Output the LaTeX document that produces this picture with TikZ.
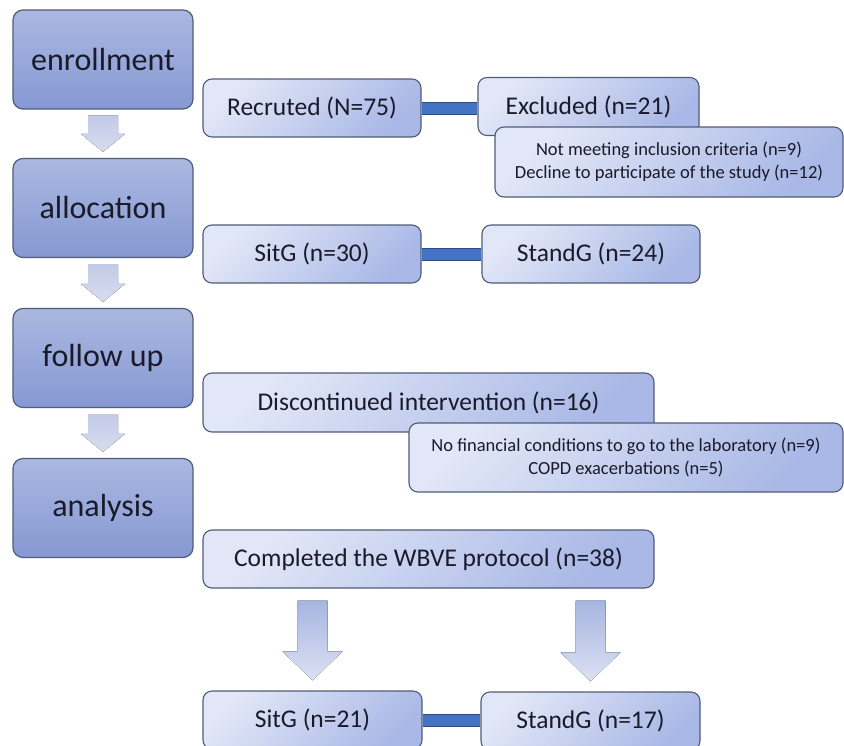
\documentclass[tikz,border=0pt]{standalone}
\usepackage{fontspec}
\setmainfont{Carlito}
\usetikzlibrary{calc}

\definecolor{stagetop}{HTML}{AAB8E1}
\definecolor{stagebottom}{HTML}{8698D2}
\definecolor{infolight}{HTML}{E2E7F7}
\definecolor{infodark}{HTML}{A9B8E6}
\definecolor{boxline}{HTML}{505C78}
\definecolor{barfill}{HTML}{4472C4}
\definecolor{barline}{HTML}{2F4A80}
\definecolor{arrowtop}{HTML}{C2CAE6}
\definecolor{arrowbottom}{HTML}{D8DDEF}
\definecolor{bigtop}{HTML}{A6B5E1}
\definecolor{bigbottom}{HTML}{DCE1F3}
\definecolor{textdark}{HTML}{1A1A2A}

\tikzset{
  stage/.style={draw=boxline, line width=1.2pt, rounded corners=10pt,
    top color=stagetop, bottom color=stagebottom,
    minimum width=180pt, minimum height=99pt, inner sep=0pt,
    text=textdark, font=\fontsize{32}{38}\selectfont},
  infobox/.style={draw=boxline, line width=1.1pt, rounded corners=9pt,
    top color=infolight, bottom color=infodark, shading angle=45,
    minimum height=58pt, inner sep=0pt,
    text=textdark, font=\fontsize{25.5}{30}\selectfont},
  notebox/.style={infobox, minimum height=70pt, align=center,
    font=\fontsize{18.5}{23}\selectfont},
  bar/.style={draw=barline, line width=1pt, double=barfill, double distance=11pt},
  smallarrow/.style={top color=arrowtop, bottom color=arrowbottom},
  bigarrow/.style={top color=bigtop, bottom color=bigbottom}
}

\begin{document}
\begin{tikzpicture}[x=1pt,y=-1pt]
\useasboundingbox (0,0) rectangle (844,745);
\fill[white] (0,0) rectangle (844,745);

% stages
\node[stage] (enroll) at (103,59.5) {enrollment};
\node[stage] (alloc) at (103,208) {allocation};
\node[stage] (follow) at (103,358) {follow up};
\node[stage] (analysis) at (103,508) {analysis};

% arrows between stages
\fill[smallarrow] ($(enroll.south)+(-15,6)$) -- ($(enroll.south)+(15,6)$) -- ($(alloc.north)+(15,-24)$) -- ($(alloc.north)+(22,-24)$) -- ($(alloc.north)+(0,-6)$) -- ($(alloc.north)+(-22,-24)$) -- ($(alloc.north)+(-15,-24)$) -- cycle;
\fill[smallarrow] ($(alloc.south)+(-15,6)$) -- ($(alloc.south)+(15,6)$) -- ($(follow.north)+(15,-24)$) -- ($(follow.north)+(22,-24)$) -- ($(follow.north)+(0,-6)$) -- ($(follow.north)+(-22,-24)$) -- ($(follow.north)+(-15,-24)$) -- cycle;
\fill[smallarrow] ($(follow.south)+(-15,6)$) -- ($(follow.south)+(15,6)$) -- ($(analysis.north)+(15,-24)$) -- ($(analysis.north)+(22,-24)$) -- ($(analysis.north)+(0,-6)$) -- ($(analysis.north)+(-22,-24)$) -- ($(analysis.north)+(-15,-24)$) -- cycle;

% enrollment
\node[infobox, minimum width=218pt] (recruit) at (312,108) {Recruted (N=75)};
\node[infobox, minimum width=221pt] (excluded) at (588.5,106.5) {Excluded (n=21)};
\node[notebox, minimum width=348pt] (exclwhy) at (669,162) {Not meeting inclusion criteria (n=9)\\Decline to participate of the study (n=12)};
\draw[bar] (recruit.east) -- (recruit.east -| excluded.west);

% allocation
\node[infobox, minimum width=218pt] (sitA) at (312,254) {SitG (n=30)};
\node[infobox, minimum width=218pt] (standA) at (591,254) {StandG (n=24)};
\draw[bar] (sitA.east) -- (standA.west);

% follow up
\node[infobox, minimum width=451pt, minimum height=59pt] (discont) at (428.5,402.5) {Discontinued intervention (n=16)};
\node[notebox, minimum width=434pt, minimum height=69pt] (discwhy) at (626,457.5) {No financial conditions to go to the laboratory (n=9)\\COPD exacerbations (n=5)};

% analysis
\node[infobox, minimum width=451pt] (completed) at (428.5,559) {Completed the WBVE protocol (n=38)};
\node[infobox, minimum width=219pt] (sitB) at (312.5,720) {SitG (n=21)};
\node[infobox, minimum width=219pt] (standB) at (590.5,721) {StandG (n=17)};
\draw[bar] (sitB.east) -- (sitB.east -| standB.west);

\fill[bigarrow] ($(completed.south -| sitB.north)+(-15,12)$) -- ($(completed.south -| sitB.north)+(15,12)$) -- ($(sitB.north)+(15,-39)$) -- ($(sitB.north)+(30,-39)$) -- ($(sitB.north)+(0,-10)$) -- ($(sitB.north)+(-30,-39)$) -- ($(sitB.north)+(-15,-39)$) -- cycle;
\fill[bigarrow] ($(completed.south -| standB.north)+(-15,12)$) -- ($(completed.south -| standB.north)+(15,12)$) -- ($(standB.north)+(15,-39)$) -- ($(standB.north)+(30,-39)$) -- ($(standB.north)+(0,-10)$) -- ($(standB.north)+(-30,-39)$) -- ($(standB.north)+(-15,-39)$) -- cycle;
\end{tikzpicture}
\end{document}
